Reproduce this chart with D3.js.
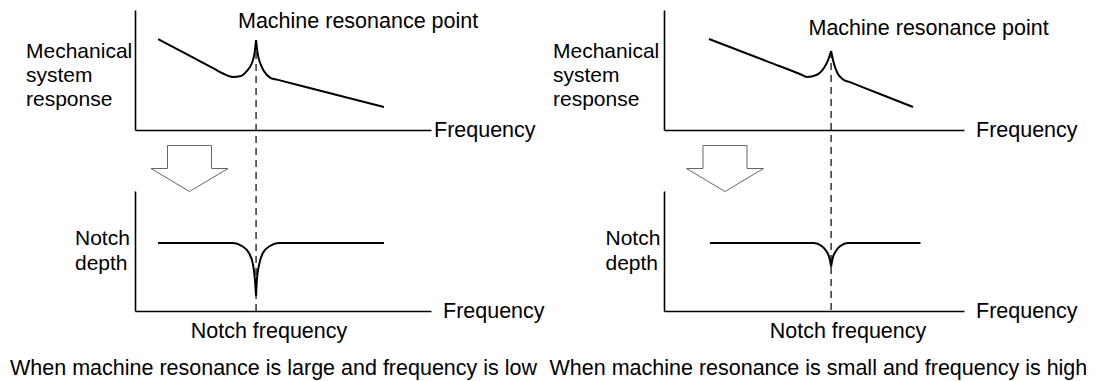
<!DOCTYPE html>
<html>
<head>
<meta charset="utf-8">
<script src="https://cdn.jsdelivr.net/npm/d3@7"></script>
<style>
    body { margin: 0; background: #fff; }
    text { font-family: "Liberation Sans", Arial, sans-serif; font-size: 21.5px; fill: #000; }
    text.ylab { font-size: 21px; }
</style>
</head>
<body>
<div id="chart"></div>
<script>
// values (relative units 0-100 on both axes)
var resonanceFreq = [40.9, 55.7];

// large resonance, low frequency
var freqLow = [7.8, 20, 27, 29.4, 33.1, 35.8, 37.8, 39.5, 40.4, 40.9, 41.4, 42.7, 44.6, 45.9, 48, 60, 84.1];
var respLow = [75.8, 59.8, 50.65, 47.5, 44.2, 45, 49.2, 55.8, 64.2, 75, 64.2, 53.3, 45.8, 43.3, 41.97, 34.4, 19.2];
var notchFreqLow = [7.8, 33.1, 36.1, 38.5, 39.9, 40.5, 40.9, 41.2, 41.9, 43.2, 45.6, 48.6, 84.1];
var depthLow = [56.7, 56.7, 54.2, 48.3, 38.3, 26.7, 12.5, 26.7, 38.3, 48.3, 54.2, 56.7, 56.7];

// small resonance, high frequency
var freqHigh = [15, 35, 45.3, 47.7, 50.8, 53.2, 54.7, 55.7, 56.5, 57.8, 59.7, 62, 72, 83];
var respHigh = [75.8, 56.6, 46.7, 44.2, 45.8, 51.3, 58.3, 65.8, 56.7, 47.5, 42.1, 39.84, 30, 19.2];
var notchFreqHigh = [15.3, 50, 52.5, 54.2, 55.2, 55.7, 56.2, 57.2, 58.8, 61.3, 85.5];
var depthHigh = [56.7, 56.7, 54.2, 49.6, 43.8, 37.1, 43.8, 49.6, 54.2, 56.7, 56.7];

var topYLabel = ["Mechanical", "system", "response"];
var bottomYLabel = ["Notch", "depth"];
var captions = ["When machine resonance is large and frequency is low",
                "When machine resonance is small and frequency is high"];

var svgWidth = 1096;
var svgHeight = 381;

var svg = d3.select("#chart").append("svg").attr("width", svgWidth).attr("height", svgHeight);

// layout of the two columns
var panels = [
    { x0: 135, x1: 431, labelX: 26, notchX: 75, arrowX: 189.5, peakLabelX: 238, peakLabelY: 28,
      freqLabelTop: 434, freqLabelBottom: 443, captionX: 10,
      freq: freqLow, resp: respLow, nFreq: notchFreqLow, depth: depthLow },
    { x0: 664, x1: 964, labelX: 553, notchX: 605.5, arrowX: 725, peakLabelX: 808.5, peakLabelY: 35,
      freqLabelTop: 976, freqLabelBottom: 976, captionX: 549.5,
      freq: freqHigh, resp: respHigh, nFreq: notchFreqHigh, depth: depthHigh }
];

// zip x and y arrays, then split at the resonance frequency (cusp)
function branches(xs, ys, f0) {
    var pts = xs.map((d, i) => [d, ys[i]]);
    return [pts.filter(d => d[0] <= f0), pts.filter(d => d[0] >= f0)];
}

panels.forEach(function(p, i) {
    var xScale = d3.scaleLinear().domain([0, 100]).range([p.x0, p.x1]);
    var yTop = d3.scaleLinear().domain([0, 100]).range([130, 10]);
    var yBottom = d3.scaleLinear().domain([0, 100]).range([311, 191]);

    var g = svg.append("g");

    // axes (no ticks, just the lines)
    [yTop, yBottom].forEach(function(y) {
        g.append("g").attr("transform", `translate(0, ${y(0)})`)
            .call(d3.axisBottom(xScale).tickValues([]).tickSizeOuter(0))
            .select(".domain").attr("stroke", "#000").attr("stroke-width", 1.6);
        g.append("g").attr("transform", `translate(${xScale(0)}, 0)`)
            .call(d3.axisLeft(y).tickValues([]).tickSizeOuter(0))
            .select(".domain").attr("stroke", "#000").attr("stroke-width", 1.6);
    });

    // dashed line at the resonance frequency
    var f0 = resonanceFreq[i];
    var peak = p.resp[p.freq.indexOf(f0)];
    g.append("line")
        .attr("x1", xScale(f0)).attr("x2", xScale(f0))
        .attr("y1", yTop(peak)).attr("y2", yBottom(0))
        .attr("stroke", "#000")
        .attr("stroke-width", 1.2)
        .attr("stroke-dasharray", "7,5");

    // mechanical response and notch curves
    var lineTop = d3.line().x(d => xScale(d[0])).y(d => yTop(d[1])).curve(d3.curveMonotoneX);
    var lineBottom = d3.line().x(d => xScale(d[0])).y(d => yBottom(d[1])).curve(d3.curveMonotoneX);

    branches(p.freq, p.resp, f0).forEach(function(b) {
        g.append("path").attr("d", lineTop(b))
            .attr("fill", "none").attr("stroke", "#000").attr("stroke-width", 2);
    });
    branches(p.nFreq, p.depth, f0).forEach(function(b) {
        g.append("path").attr("d", lineBottom(b))
            .attr("fill", "none").attr("stroke", "#000").attr("stroke-width", 2);
    });

    // hollow arrow pointing down
    var arrow = g.append("g").attr("transform", `translate(${p.arrowX}, 145.5)`);
    arrow.append("path")
        .attr("d", "M-22,23 L-22,0 L22,0 L22,23 L38.5,23 L0,46 L-38.5,23 Z")
        .attr("fill", "#fff")
        .attr("stroke", "#666")
        .attr("stroke-width", 1);

    // labels
    g.append("text").attr("x", p.peakLabelX).attr("y", p.peakLabelY).text("Machine resonance point");

    g.selectAll(".ylab-top").data(topYLabel).enter().append("text")
        .attr("class", "ylab")
        .attr("x", p.labelX)
        .attr("y", (d, j) => 58 + j * 24)
        .text(d => d);

    g.selectAll(".ylab-bottom").data(bottomYLabel).enter().append("text")
        .attr("class", "ylab")
        .attr("x", p.notchX)
        .attr("y", (d, j) => 245 + j * 25)
        .text(d => d);

    g.append("text").attr("x", p.freqLabelTop).attr("y", yTop(0) + 7).text("Frequency");
    g.append("text").attr("x", p.freqLabelBottom).attr("y", yBottom(0) + 7).text("Frequency");

    g.append("text")
        .attr("x", i === 0 ? 269 : 848)
        .attr("y", 338)
        .attr("text-anchor", "middle")
        .text("Notch frequency");

    g.append("text").attr("x", p.captionX).attr("y", 375).text(captions[i]);
});
</script>
</body>
</html>
